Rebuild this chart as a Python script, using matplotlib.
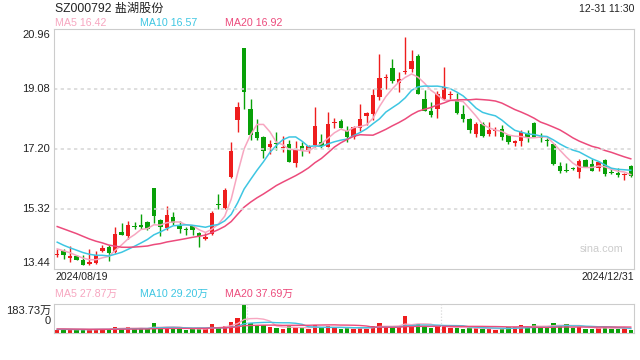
import numpy as np
import pandas as pd
import matplotlib
matplotlib.use("Agg")
import matplotlib.pyplot as plt

plt.rcParams['font.family'] = ['Liberation Sans', 'Noto Sans CJK SC', 'DejaVu Sans']

# daily candles 2024/08/19 .. 2024/12/31
opens = [13.89, 14.00, 13.80, 13.85, 13.72, 13.61, 13.64, 14.01, 14.13, 13.98,
         14.60, 14.47, 14.78, 14.82, 14.92, 15.98, 14.98, 14.74, 15.06, 14.79,
         14.67, 14.79, 14.56, 14.37, 14.54, 15.46, 15.36, 16.33, 18.12, 20.37,
         18.45, 17.73, 17.58, 17.26, 17.38, 17.22, 17.36, 16.77, 17.29, 17.17,
         17.31, 17.43, 17.27, 18.02, 18.08, 17.76, 17.59, 17.87, 18.24, 18.30,
         18.84, 19.43, 19.74, 19.28, 19.60, 19.71, 20.11, 18.77, 18.39, 18.46,
         18.77, 18.89, 18.74, 18.30, 18.14, 17.67, 17.97, 17.67, 17.77, 17.83,
         17.63, 17.40, 17.46, 17.69, 18.03, 17.55, 17.47, 17.35, 16.67, 16.53,
         16.59, 16.49, 16.86, 16.73, 16.59, 16.86, 16.45, 16.44, 16.38, 16.67]
closes = [13.91, 13.88, 13.81, 13.73, 13.58, 13.66, 13.87, 14.11, 13.95, 14.54,
          14.51, 14.82, 14.76, 14.76, 14.68, 15.11, 14.77, 15.13, 14.87, 14.69,
          14.66, 14.66, 14.48, 14.43, 15.21, 15.44, 15.93, 17.14, 18.52, 18.99,
          17.64, 17.55, 17.15, 17.37, 17.36, 17.24, 16.80, 17.16, 17.17, 17.29,
          17.92, 17.30, 17.98, 18.04, 17.87, 17.59, 17.88, 18.13, 18.33, 18.89,
          19.42, 19.45, 19.34, 19.38, 19.63, 19.96, 18.93, 18.40, 18.27, 18.92,
          19.13, 18.91, 18.32, 18.14, 17.80, 17.98, 17.61, 17.80, 17.78, 17.59,
          17.42, 17.42, 17.74, 17.59, 17.59, 17.53, 17.46, 16.72, 16.52, 16.52,
          16.58, 16.83, 16.65, 16.52, 16.78, 16.42, 16.44, 16.37, 16.39, 16.36]
highs = [14.06, 14.08, 14.16, 13.87, 13.87, 14.07, 14.00, 14.18, 14.19, 14.77,
         14.89, 14.94, 14.91, 15.16, 14.94, 15.98, 15.01, 15.42, 15.23, 14.93,
         14.77, 14.81, 14.61, 14.58, 15.26, 15.78, 15.97, 17.43, 18.67, 20.37,
         18.77, 18.13, 17.60, 17.47, 17.74, 17.62, 17.48, 17.46, 17.43, 17.32,
         18.52, 17.66, 18.35, 18.18, 18.13, 17.92, 17.93, 18.60, 18.35, 19.07,
         20.17, 19.55, 20.01, 19.62, 20.72, 20.30, 20.17, 19.06, 18.68, 19.03,
         19.78, 19.03, 18.94, 18.58, 18.16, 18.06, 18.06, 18.06, 17.90, 17.95,
         17.64, 17.48, 17.80, 17.80, 18.06, 17.69, 17.54, 17.35, 16.80, 16.75,
         16.63, 16.88, 16.89, 16.88, 16.82, 16.88, 16.60, 16.60, 16.44, 16.70]
lows = [13.83, 13.76, 13.67, 13.71, 13.55, 13.58, 13.61, 13.98, 13.70, 13.95,
        14.50, 14.37, 14.70, 14.70, 14.65, 14.89, 14.46, 14.66, 14.81, 14.58,
        14.49, 14.50, 14.12, 14.34, 14.51, 15.32, 15.33, 16.30, 17.74, 18.45,
        17.48, 17.48, 16.93, 17.05, 17.17, 17.12, 16.80, 16.65, 16.99, 17.06,
        17.27, 17.24, 17.25, 17.85, 17.85, 17.43, 17.50, 17.76, 17.95, 18.11,
        18.73, 19.08, 19.26, 18.99, 19.54, 19.61, 18.91, 18.40, 18.21, 18.18,
        18.74, 18.77, 18.30, 18.06, 17.71, 17.59, 17.59, 17.61, 17.60, 17.48,
        17.36, 17.29, 17.30, 17.42, 17.57, 17.43, 17.30, 16.69, 16.44, 16.49,
        16.54, 16.28, 16.63, 16.51, 16.51, 16.36, 16.42, 16.33, 16.23, 16.31]
# volume, 万股
volumes = [22, 25, 20, 18, 24, 20, 28, 26, 22, 40,
           30, 35, 25, 28, 30, 62, 35, 38, 30, 25,
           22, 24, 30, 26, 55, 35, 45, 70, 95, 183.73,
           62, 50, 48, 35, 30, 28, 45, 40, 30, 25,
           50, 30, 45, 30, 28, 30, 28, 40, 28, 45,
           65, 35, 40, 38, 105, 45, 60, 40, 30, 40,
           45, 30, 35, 28, 32, 30, 28, 25, 22, 28,
           40, 35, 50, 38, 55, 35, 38, 65, 50, 54,
           30, 38, 28, 25, 32, 40, 25, 28, 30, 16]
# sessions before 08/19, only needed to start the moving averages
prev_closes = [15.35, 15.30, 15.20, 15.28, 15.32, 15.25, 15.18, 15.30, 15.22, 15.20,
               14.85, 14.62, 14.45, 14.33, 14.20, 14.18, 14.12, 14.16, 13.98]
prev_volumes = [30, 28, 26, 32, 30, 28, 25, 27, 30, 26,
                24, 25, 22, 26, 24, 22, 23, 21, 24]

price_ticks = [13.44, 15.32, 17.20, 19.08, 20.96]
title = 'SZ000792 盐湖股份'
stamp = '12-31 11:30'
ma_labels = ['MA5 16.42', 'MA10 16.57', 'MA20 16.92']
vol_ma_labels = ['MA5 27.87万', 'MA10 29.20万', 'MA20 37.69万']
date_first, date_last = '2024/08/19', '2024/12/31'

RED = '#ee1d1d'
GREEN = '#08a008'
MA_COLORS = ['#f7a6c0', '#3ec6e2', '#ec4b7c']
GRID = '#d9d9d9'
TXT = '#222222'

n = len(closes)
x = np.arange(n)
up = np.array(closes) >= np.array(opens)
colors = np.where(up, RED, GREEN)

all_close = pd.Series(prev_closes + closes)
all_vol = pd.Series(prev_volumes + volumes)
k = len(prev_closes)

fig = plt.figure(figsize=(6.4, 3.6), dpi=100)
ax = fig.add_axes([54 / 640, 91 / 360, 580 / 640, 240 / 360])
axv = fig.add_axes([54 / 640, 27 / 360, 580 / 640, 29 / 360])

# candles
o = np.array(opens)
c = np.array(closes)
body_lo = np.minimum(o, c)
body_h = np.maximum(np.abs(c - o), 0.035)
ax.vlines(x, lows, highs, color=colors, linewidth=1)
ax.bar(x, body_h, bottom=body_lo, width=0.68, color=colors, linewidth=0)

for w, col in zip([5, 10, 20], MA_COLORS):
    ma = all_close.rolling(w).mean().values[k:]
    ax.plot(x, ma, color=col, linewidth=1.1)

ax.set_xlim(-0.5, n - 0.5)
ax.set_ylim(price_ticks[0], price_ticks[-1])
ax.set_xticks([])
ax.set_yticks([])
for t in price_ticks[1:-1]:
    ax.axhline(t, color=GRID, linestyle=(0, (2, 2)), linewidth=1.2)
for s in ax.spines.values():
    s.set_color('#cccccc')

# price labels
for t in price_ticks:
    off = 0
    if t == price_ticks[0]:
        off = 4.5
    if t == price_ticks[-1]:
        off = -4
    ax.annotate(f'{t:.2f}', (0, t), xycoords=('axes fraction', 'data'),
                xytext=(-3, off), textcoords='offset points', ha='right', va='center',
                fontsize=8, color=TXT)

# volume
axv.bar(x, volumes, width=0.68, color=colors, linewidth=0)
for w, col in zip([5, 10, 20], MA_COLORS):
    ma = all_vol.rolling(w).mean().values[k:]
    axv.plot(x, ma, color=col, linewidth=1.0)
axv.set_xlim(-0.5, n - 0.5)
axv.set_ylim(0, max(volumes))
axv.set_xticks([])
axv.set_yticks([])
for s in axv.spines.values():
    s.set_color('#cccccc')
axv.spines['top'].set_linestyle((0, (1, 1)))
for b in [29.5, 59.5]:
    axv.axvline(b, color=GRID, linestyle=(0, (1, 1.5)), linewidth=0.9)
fig.text(51 / 640, 1 - 311 / 360, f'{max(volumes):.2f}万', ha='right', va='center',
         fontsize=8, color=TXT)
fig.text(51 / 640, 1 - 321 / 360, '0', ha='right', va='center', fontsize=8, color=TXT)

# header texts
fig.text(55 / 640, 1 - 9 / 360, title, fontsize=8.7, color=TXT, va='center')
fig.text(634 / 640, 1 - 9 / 360, stamp, fontsize=7.6, color=TXT, va='center', ha='right')
for xp, lab, col in zip([55, 140, 225], ma_labels, MA_COLORS):
    fig.text(xp / 640, 1 - 23 / 360, lab, fontsize=7.7, color=col, va='center')
for xp, lab, col in zip([55, 140, 225], vol_ma_labels, MA_COLORS):
    fig.text(xp / 640, 1 - 294 / 360, lab, fontsize=7.7, color=col, va='center')
fig.text(55 / 640, 1 - 277 / 360, date_first, fontsize=7.6, color=TXT, va='center')
fig.text(634 / 640, 1 - 277 / 360, date_last, fontsize=7.6, color=TXT, va='center', ha='right')
fig.text(623 / 640, 1 - 249 / 360, 'sina.com', fontsize=7.8, color='#cccccc',
         va='center', ha='right')

fig.savefig('out.png', dpi=100)
